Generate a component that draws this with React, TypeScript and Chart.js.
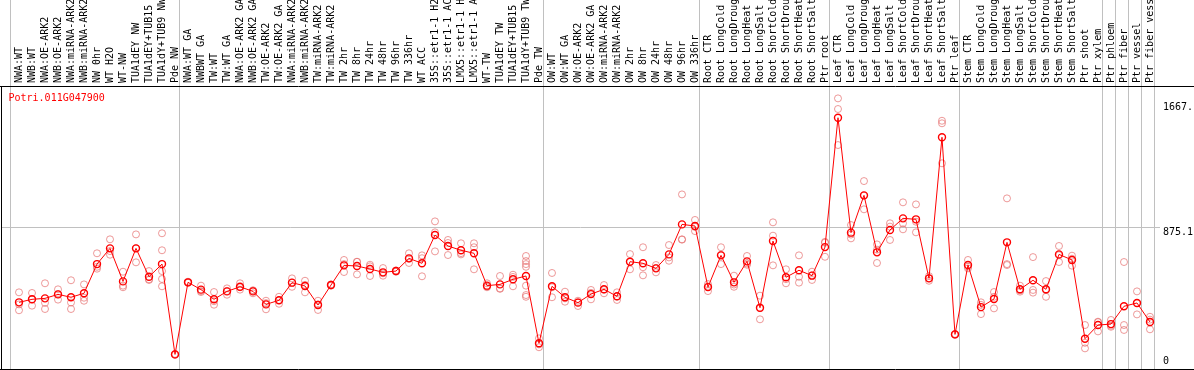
import React, { useEffect, useRef } from 'react';
import { Chart, registerables } from 'chart.js';

Chart.register(...registerables);

const geneId = 'Potri.011G047900';

const categories = [
  'NWA:WT', 'NWB:WT', 'NWA:OE-ARK2', 'NWB:OE-ARK2', 'NWA:miRNA-ARK2', 'NWB:miRNA-ARK2',
  'NW 0hr', 'WT H2O', 'WT-NW', 'TUA1dEY NW', 'TUA1dEY+TUB15 NW', 'TUA1dY+TUB9 NW', 'Pde NW',
  'NWA:WT GA', 'NWBWT GA', 'TW:WT', 'TW:WT GA', 'NWA:OE-ARK2 GA', 'NWB:OE-ARK2 GA',
  'TW:OE-ARK2', 'TW:OE-ARK2 GA', 'NWA:miRNA-ARK2 GA', 'NWB:miRNA-ARK2 GA', 'TW:miRNA-ARK2',
  'TW:miRNA-ARK2 GA', 'TW 2hr', 'TW 8hr', 'TW 24hr', 'TW 48hr', 'TW 96hr', 'TW 336hr', 'WT ACC',
  '35S::etr1-1 H2O', '35S::etr1-1 ACC', 'LMX5::etr1-1 H2O', 'LMX5::etr1-1 ACC', 'WT-TW',
  'TUA1dEY TW', 'TUA1dEY+TUB15 TW', 'TUA1dY+TUB9 TW', 'Pde TW',
  'OW:WT', 'OW:WT GA', 'OW:OE-ARK2', 'OW:OE-ARK2 GA', 'OW:miRNA-ARK2', 'OW:miRNA-ARK2 GA',
  'OW 2hr', 'OW 8hr', 'OW 24hr', 'OW 48hr', 'OW 96hr', 'OW 336hr',
  'Root CTR', 'Root LongCold', 'Root LongDrought', 'Root LongHeat', 'Root LongSalt',
  'Root ShortCold', 'Root ShortDrought', 'Root ShortHeat', 'Root ShortSalt', 'Ptr root',
  'Leaf CTR', 'Leaf LongCold', 'Leaf LongDrought', 'Leaf LongHeat', 'Leaf LongSalt',
  'Leaf ShortCold', 'Leaf ShortDrought', 'Leaf ShortHeat', 'Leaf ShortSalt', 'Ptr leaf',
  'Stem CTR', 'Stem LongCold', 'Stem LongDrought', 'Stem LongHeat', 'Stem LongSalt',
  'Stem ShortCold', 'Stem ShortDrought', 'Stem ShortHeat', 'Stem ShortSalt', 'Ptr shoot',
  'Ptr xylem', 'Ptr phloem', 'Ptr fiber', 'Ptr vessel', 'Ptr fiber vessel',
];

// index of first category of each group (last entry = end)
const groupStarts = [0, 13, 41, 53, 63, 73, 84, 85, 86, 87, 88];

const means = [
  405, 424, 430, 455, 437, 462, 646, 745, 537, 745, 566, 646, 77,
  531, 485, 424, 474, 503, 474, 392, 418, 529, 508, 388, 514, 638, 634, 615, 594, 602,
  682, 651, 829, 760, 733, 714, 510, 518, 550, 571, 147,
  506, 437, 403, 457, 487, 443, 661, 651, 619, 707, 896, 886,
  501, 701, 531, 663, 371, 791, 563, 607, 573, 753,
  1568, 844, 1079, 720, 861, 934, 928, 556, 1445, 203,
  640, 375, 426, 783, 487, 544, 487, 707, 672, 176, 262,
  268, 380, 401, 281,
];

const replicates = [
  [468, 392, 355], [464, 424, 384], [525, 402, 363], [487, 456, 422], [544, 404, 363],
  [518, 434, 415], [714, 629, 617], [802, 728, 705], [598, 510, 500], [833, 745, 657],
  [602, 550, 546], [840, 733, 602, 552, 506], [80, 77, 74],
  [535, 531, 528], [510, 476, 470], [470, 412, 390], [493, 476, 453], [525, 500, 485],
  [481, 478, 462], [415, 400, 361], [440, 418, 396], [556, 529, 503], [541, 515, 468],
  [415, 392, 357], [518, 514, 510], [672, 646, 596], [661, 660, 581], [642, 632, 571],
  [621, 588, 573], [606, 602, 598], [714, 680, 653], [701, 683, 569], [915, 846, 726],
  [798, 779, 703], [777, 715, 707], [777, 752, 613], [525, 505, 500], [571, 493, 490],
  [579, 565, 506], [697, 665, 646, 629, 510, 451, 440], [178, 140, 122],
  [590, 500, 437], [472, 430, 409], [415, 406, 382], [483, 465, 424], [514, 485, 462],
  [468, 441, 420], [709, 661, 613], [752, 626, 575], [640, 622, 594], [766, 688, 667],
  [1085, 802, 800], [924, 880, 854],
  [520, 505, 476], [752, 705, 646], [573, 517, 503], [697, 650, 642], [447, 368, 298],
  [909, 825, 638], [613, 551, 525], [701, 566, 529], [598, 575, 546], [786, 781, 692],
  [1690, 1623, 1396], [892, 832, 808], [1169, 1077, 991], [770, 737, 653], [903, 882, 798],
  [1035, 903, 865], [1022, 913, 846], [570, 556, 541], [1549, 1533, 1281], [206, 203, 200],
  [672, 630, 619], [405, 389, 331], [470, 440, 367], [1060, 646, 640], [510, 480, 472],
  [690, 483, 466], [539, 482, 440], [760, 702, 659], [699, 680, 636], [262, 150, 115],
  [283, 280, 222], [294, 258, 251], [659, 262, 231], [474, 400, 329], [314, 296, 235],
];

const yTickValues = [0, 875.1, 1667];
const yTickLabels = ['0', '875.1', '1667.'];
const yGridValues = [875.1];

const Y_MIN = -15;
const Y_MAX = 1768;
const X_MIN = -1.385;
const X_MAX = 87.77;
const BOUNDARY_SHIFT = 0.62;

const MONO = '"DejaVu Sans Mono", monospace';
const GRID = '#c0c0c0';
const NONE = 'rgba(0,0,0,0)';

const framePlugin = {
  id: 'frameAndTitle',
  afterDraw(chart: any) {
    const { ctx, chartArea: a, width } = chart;
    ctx.save();
    ctx.strokeStyle = '#000';
    ctx.lineWidth = 1;
    ctx.beginPath();
    ctx.moveTo(0, a.top + 0.5);
    ctx.lineTo(width, a.top + 0.5);
    ctx.moveTo(a.left + 0.5, a.top);
    ctx.lineTo(a.left + 0.5, a.bottom);
    ctx.moveTo(0, a.bottom + 0.5);
    ctx.lineTo(width, a.bottom + 0.5);
    ctx.stroke();
    ctx.fillStyle = '#ff0000';
    ctx.font = '10px ' + MONO;
    ctx.textBaseline = 'alphabetic';
    ctx.textAlign = 'left';
    ctx.fillText(geneId, a.left + 7.5, a.top + 15);
    ctx.restore();
  },
};

const noPad = (s: any) => {
  s.paddingTop = 0;
  s.paddingBottom = 0;
  s.paddingLeft = 0;
  s.paddingRight = 0;
};

export default function App() {
  const ref = useRef<HTMLCanvasElement | null>(null);

  useEffect(() => {
    if (!ref.current) return;
    const boundaries = groupStarts.map((b) => b - BOUNDARY_SHIFT);
    const isBoundary = (v: number) => !Number.isInteger(v);

    const chart = new Chart(ref.current, {
      type: 'line',
      data: {
        datasets: [
          {
            type: 'line',
            label: 'mean',
            data: means.map((y, i) => ({ x: i, y })),
            borderColor: '#ff0000',
            borderWidth: 1,
            pointRadius: 3.5,
            pointBorderWidth: 1.4,
            pointBorderColor: '#ff0000',
            pointBackgroundColor: NONE,
            tension: 0,
            order: 0,
          },
          {
            type: 'line',
            label: 'replicates',
            data: replicates.flatMap((r, i) => r.map((y) => ({ x: i, y }))),
            showLine: false,
            pointRadius: 3.5,
            pointBorderWidth: 1,
            pointBorderColor: 'rgba(230,110,110,0.7)',
            pointBackgroundColor: NONE,
            order: 1,
          },
        ] as any,
      },
      options: {
        animation: false,
        responsive: false,
        devicePixelRatio: 1,
        layout: { autoPadding: false, padding: { left: 1, right: 0, top: 0, bottom: 1 } },
        plugins: {
          legend: { display: false },
          tooltip: { enabled: false },
        },
        scales: {
          x: {
            type: 'linear',
            position: 'top',
            min: X_MIN,
            max: X_MAX,
            afterBuildTicks: (s: any) => {
              const t = [
                ...boundaries.map((v) => ({ value: v })),
                ...categories.map((_, i) => ({ value: i })),
              ];
              t.sort((a, b) => a.value - b.value);
              s.ticks = t;
            },
            afterFit: (s: any) => {
              s.height = 86;
              noPad(s);
            },
            ticks: {
              autoSkip: false,
              minRotation: 90,
              maxRotation: 90,
              padding: -83,
              labelOffset: 10,
              color: '#000',
              font: { family: MONO, size: 10, lineHeight: 1 },
              callback: (v: any) => (isBoundary(Number(v)) ? '' : categories[Number(v)]),
            },
            grid: {
              color: (c: any) => (c.tick && isBoundary(c.tick.value) ? GRID : NONE),
              tickColor: (c: any) => (c.tick && isBoundary(c.tick.value) ? GRID : NONE),
              tickLength: 86,
              drawTicks: true,
              lineWidth: 1,
            },
            border: { display: false },
          },
          y: {
            type: 'linear',
            position: 'right',
            min: Y_MIN,
            max: Y_MAX,
            afterBuildTicks: (s: any) => {
              s.ticks = yTickValues.map((v) => ({ value: v }));
            },
            afterFit: (s: any) => {
              s.width = 34;
              noPad(s);
            },
            ticks: {
              padding: 3,
              color: '#000',
              font: { family: MONO, size: 10, lineHeight: 1 },
              callback: (v: any) => {
                const i = yTickValues.indexOf(Number(v));
                const label = i >= 0 ? yTickLabels[i] : '';
                return Number(v) <= 0 ? [label, ''] : ['', label];
              },
            },
            grid: {
              drawTicks: false,
              color: (c: any) => (c.tick && yGridValues.includes(c.tick.value) ? GRID : NONE),
            },
            border: { display: false },
          },
        },
      } as any,
      plugins: [framePlugin],
    });
    return () => chart.destroy();
  }, []);

  return (
    <div style={{ position: 'absolute', left: 0, top: 0, width: 1194, height: 370, background: '#fff' }}>
      <canvas ref={ref} width={1194} height={370} style={{ display: 'block' }} />
    </div>
  );
}
